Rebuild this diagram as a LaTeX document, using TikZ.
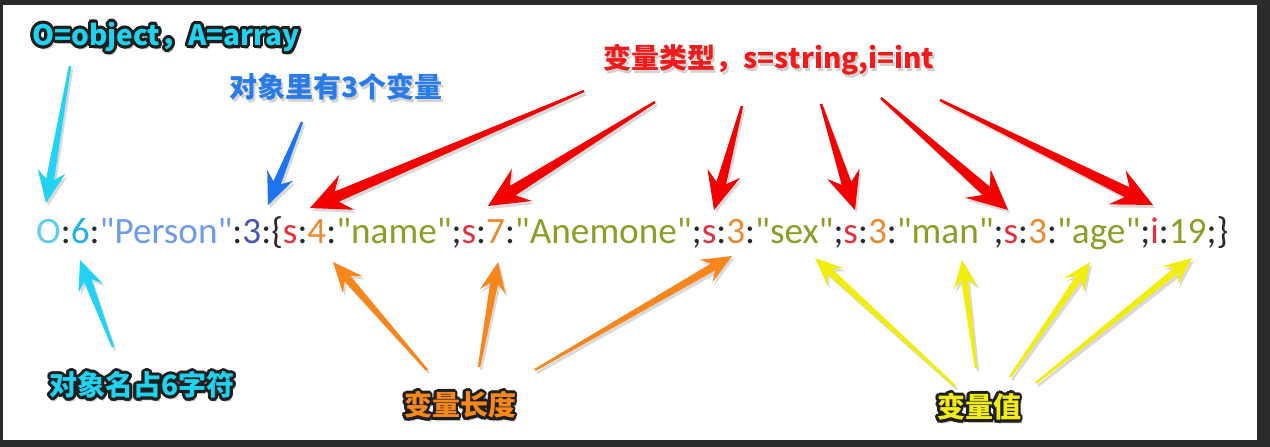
\documentclass[tikz,border=0pt]{standalone}
\usepackage{fontspec}
\usetikzlibrary{calc}
\newfontfamily\cjk{Noto Sans CJK SC}
\newfontfamily\codefont{Carlito}
\definecolor{frame}{HTML}{2B2B2B}
\definecolor{outl}{HTML}{1E1E1E}
\definecolor{codeO}{HTML}{5DCDF2}
\definecolor{codeSix}{HTML}{1FB3E6}
\definecolor{codeP}{HTML}{6E9BEA}
\definecolor{codeThree}{HTML}{4A55B0}
\definecolor{codeK}{HTML}{2A2A2A}
\definecolor{codeS}{HTML}{E8303A}
\definecolor{codeN}{HTML}{F0882C}
\definecolor{codeV}{HTML}{8B9E25}
\definecolor{arCyan}{HTML}{22D3F3}
\definecolor{arBlue}{HTML}{1E74F0}
\definecolor{arRed}{HTML}{F40000}
\definecolor{arOrange}{HTML}{F7871C}
\definecolor{arYellow}{HTML}{F2EE0C}
\definecolor{lbCyan}{HTML}{1ED2F0}
\definecolor{lbBlue}{HTML}{2A7BEA}
\definecolor{lbRed}{HTML}{F01C1C}
\definecolor{lbOrange}{HTML}{F6881E}
\definecolor{lbYellow}{HTML}{F2EC16}
\newcommand\cK[1]{\textcolor{codeK}{#1}}
\newcommand\cS[1]{\textcolor{codeS}{#1}}
\newcommand\cN[1]{\textcolor{codeN}{#1}}
\newcommand\cV[1]{\textcolor{codeV}{#1}}
% fat tapered arrow: colour, tail, tip, head length, neck length, head half width, neck half width
\newcommand\fatarrow[7]{%
  \coordinate (fa-h) at ($(#3)!#4pt!(#2)$);
  \coordinate (fa-n) at ($(#3)!#5pt!(#2)$);
  \fill[black,opacity=0.15,transform canvas={shift={(2pt,-3pt)}}]
    ($(#2)!1.2pt!90:(#3)$) -- ($(fa-n)!#7pt!90:(#3)$) -- ($(fa-h)!#6pt!90:(#3)$) -- (#3)
    -- ($(fa-h)!#6pt!-90:(#3)$) -- ($(fa-n)!#7pt!-90:(#3)$) -- ($(#2)!1.2pt!-90:(#3)$) -- cycle;
  \fill[#1]
    ($(#2)!1.2pt!90:(#3)$) -- ($(fa-n)!#7pt!90:(#3)$) -- ($(fa-h)!#6pt!90:(#3)$) -- (#3)
    -- ($(fa-h)!#6pt!-90:(#3)$) -- ($(fa-n)!#7pt!-90:(#3)$) -- ($(#2)!1.2pt!-90:(#3)$) -- cycle;
}
% outlined label: name, position, colour, text
\newcommand\outlinelabel[4]{%
  \node[lbl,text=black,opacity=0.25] at ($(#2)+(2,4)$) {#4};
  \foreach \a in {0,22.5,...,337.5}{\node[lbl,text=outl] at ($(#2)+(\a:2.8)$) {#4};}
  \node[lbl,text=#3] (#1) at (#2) {#4};
}
% label with soft shadow: name, position, colour, text
\newcommand\shadowlabel[4]{%
  \node[lbl,text=black,opacity=0.18] at ($(#2)+(2,3)$) {#4};
  \node[lbl,text=#3] (#1) at (#2) {#4};
}
\begin{document}
\begin{tikzpicture}[x=1pt,y=-1pt,
  lbl/.style={inner sep=0pt,font=\cjk\bfseries\fontsize{28}{32}\selectfont},
  codeline/.style={inner sep=0pt,anchor=base west,font=\codefont\fontsize{38}{46}\selectfont}]
\useasboundingbox (0,0) rectangle (1270,447);
\fill[frame] (0,0) rectangle (1270,447);
\fill[white] (3,5) rectangle (1257,440);

% code line
\node[codeline] (code) at (36,243) {\resizebox{1192pt}{!}{\textcolor{codeO}{O}\cK{:}\textcolor{codeSix}{6}\cK{:}\textcolor{codeP}{"Person"}\cK{:}\textcolor{codeThree}{3}\cK{:\{}\cS{s}\cK{:}\cN{4}\cK{:}\cV{"name"}\cK{;}\cS{s}\cK{:}\cN{7}\cK{:}\cV{"Anemone"}\cK{;}\cS{s}\cK{:}\cN{3}\cK{:}\cV{"sex"}\cK{;}\cS{s}\cK{:}\cN{3}\cK{:}\cV{"man"}\cK{;}\cS{s}\cK{:}\cN{3}\cK{:}\cV{"age"}\cK{;}\cS{i}\cK{:}\cV{19}\cK{;\}}}};

% labels
\outlinelabel{lobj}{166,37}{lbCyan}{O=object，A=array}
\shadowlabel{lthree}{336,87}{lbBlue}{对象里有3个变量}
\shadowlabel{ltype}{769,60}{lbRed}{变量类型，s=string,i=int}
\outlinelabel{lname}{142,385}{lbCyan}{对象名占6字符}
\outlinelabel{llen}{460,405}{lbOrange}{变量长度}
\outlinelabel{lval}{979,407}{lbYellow}{变量值}

% arrow ends
\coordinate (cyT1) at (70,66);   \coordinate (cyH1) at (46,203);
\coordinate (blT)  at (302,122); \coordinate (blH)  at (268,205);
\coordinate (rT1) at (584,91);   \coordinate (rH1) at (310,208);
\coordinate (rT2) at (655,102);  \coordinate (rH2) at (488,206);
\coordinate (rT3) at (742,106);  \coordinate (rH3) at (714,210);
\coordinate (rT4) at (821,104);  \coordinate (rH4) at (855,210);
\coordinate (rT5) at (881,98);   \coordinate (rH5) at (1008,210);
\coordinate (rT6) at (940,100);  \coordinate (rH6) at (1153,205);
\coordinate (cyT2) at (113,347); \coordinate (cyH2) at (80,260);
\coordinate (oT1) at (427,370);  \coordinate (oH1) at (333,262);
\coordinate (oT2) at (479,367);  \coordinate (oH2) at (498,262);
\coordinate (oT3) at (535,370);  \coordinate (oH3) at (732,256);
\coordinate (yT1) at (955,386);  \coordinate (yH1) at (815,258);
\coordinate (yT2) at (976,368);  \coordinate (yH2) at (962,260);
\coordinate (yT3) at (1010,377); \coordinate (yH3) at (1090,262);
\coordinate (yT4) at (1036,383); \coordinate (yH4) at (1192,258);

\fatarrow{arCyan}{cyT1}{cyH1}{32}{24}{14}{4}
\fatarrow{arBlue}{blT}{blH}{32}{24}{14}{4}
\fatarrow{arRed}{rT1}{rH1}{40}{29}{19}{5.5}
\fatarrow{arRed}{rT2}{rH2}{40}{29}{19}{5.5}
\fatarrow{arRed}{rT3}{rH3}{38}{28}{17}{5}
\fatarrow{arRed}{rT4}{rH4}{38}{28}{17}{5}
\fatarrow{arRed}{rT5}{rH5}{40}{29}{19}{5.5}
\fatarrow{arRed}{rT6}{rH6}{40}{29}{19}{5.5}
\fatarrow{arCyan}{cyT2}{cyH2}{30}{22}{13}{4}
\fatarrow{arOrange}{oT1}{oH1}{30}{22}{13}{4}
\fatarrow{arOrange}{oT2}{oH2}{30}{22}{13}{4}
\fatarrow{arOrange}{oT3}{oH3}{30}{22}{13}{4}
\fatarrow{arYellow}{yT1}{yH1}{28}{20}{12}{3.5}
\fatarrow{arYellow}{yT2}{yH2}{28}{20}{12}{3.5}
\fatarrow{arYellow}{yT3}{yH3}{28}{20}{12}{3.5}
\fatarrow{arYellow}{yT4}{yH4}{28}{20}{12}{3.5}
\end{tikzpicture}
\end{document}
